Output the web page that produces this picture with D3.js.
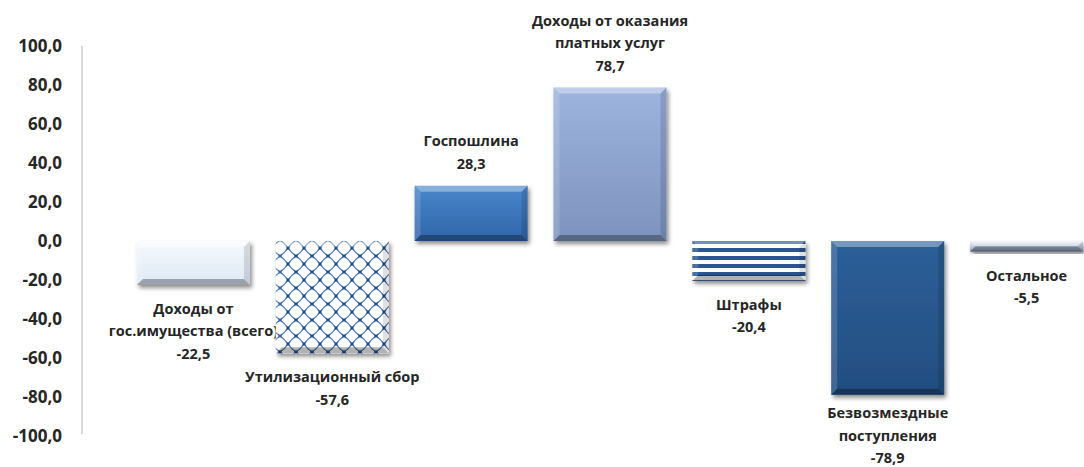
<!DOCTYPE html>
<html>
<head>
<meta charset="utf-8">
<script src="https://cdn.jsdelivr.net/npm/d3@7"></script>
<style>
  html, body { margin: 0; padding: 0; background: #fff; }
  svg { display: block; }
  text { font-family: "Open Sans", "Noto Sans", sans-serif; font-weight: 700; fill: #262626; }
</style>
</head>
<body>
<svg id="chart" width="1084" height="467"></svg>
<script>
// ---- data ----
const categories = [
  "Доходы от\nгос.имущества (всего)",
  "Утилизационный сбор",
  "Госпошлина",
  "Доходы от оказания\nплатных услуг",
  "Штрафы",
  "Безвозмездные\nпоступления",
  "Остальное"
];
const values = [-22.5, -57.6, 28.3, 78.7, -20.4, -78.9, -5.5];
const fills = ["light", "lattice", "mid", "steel", "stripes", "dark", "gray"];
const yTicks = [-100, -80, -60, -40, -20, 0, 20, 40, 60, 80, 100];

// ---- setup ----
const svg = d3.select("#chart");
const W = 1084, H = 467;
const locale = d3.formatLocale({ decimal: ",", thousands: " ", grouping: [3], currency: ["", ""], minus: "-" });
const fmt = locale.format(".1f");

const x = d3.scaleBand().domain(categories).range([124, 1096]).paddingInner(0.186).paddingOuter(0.093);
const y = d3.scaleLinear().domain([-100, 100]).range([436, 46]);

const defs = svg.append("defs");

// drop shadow
const sh = defs.append("filter").attr("id", "shadow").attr("x", "-10%").attr("y", "-10%").attr("width", "130%").attr("height", "130%");
sh.append("feDropShadow").attr("dx", 2).attr("dy", 3).attr("stdDeviation", 2.2).attr("flood-color", "#000").attr("flood-opacity", 0.45);

function vgrad(id, stops) {
  const g = defs.append("linearGradient").attr("id", id).attr("x1", 0).attr("y1", 0).attr("x2", 0).attr("y2", 1);
  stops.forEach(([o, c]) => g.append("stop").attr("offset", o).attr("stop-color", c));
}
vgrad("g-light", [[0, "#f6f9fd"], [1, "#dde8f5"]]);
vgrad("g-mid", [[0, "#4a86cb"], [1, "#2f65a8"]]);
vgrad("g-steel", [[0, "#9db4de"], [1, "#7d93bd"]]);
vgrad("g-dark", [[0, "#2d5f98"], [1, "#234d80"]]);
vgrad("g-gray", [[0, "#eef3fb"], [0.5, "#b9c6da"], [1, "#7d8aa3"]]);

// lattice pattern
const lat = defs.append("pattern").attr("id", "p-lattice").attr("patternUnits", "userSpaceOnUse")
  .attr("width", 16).attr("height", 16);
lat.append("rect").attr("width", 16).attr("height", 16).attr("fill", "#fff");
lat.append("path")
  .attr("d", "M0,8 Q3.2,3.2 8,0 M8,0 Q12.8,3.2 16,8 M16,8 Q12.8,12.8 8,16 M8,16 Q3.2,12.8 0,8")
  .attr("fill", "none").attr("stroke", "#4a74b2").attr("stroke-width", 1.1);
[[0, 8], [16, 8], [8, 0], [8, 16]].forEach(([cx, cy]) => {
  lat.append("path").attr("d", `M${cx - 1.8},${cy - 1.8}L${cx + 1.8},${cy + 1.8}M${cx + 1.8},${cy - 1.8}L${cx - 1.8},${cy + 1.8}`)
    .attr("stroke", "#1f4f8f").attr("stroke-width", 1.4);
});

// stripes pattern
const st = defs.append("pattern").attr("id", "p-stripes").attr("patternUnits", "userSpaceOnUse")
  .attr("width", 8).attr("height", 8);
st.append("rect").attr("width", 8).attr("height", 8).attr("fill", "#fff");
st.append("rect").attr("y", 0).attr("width", 8).attr("height", 4).attr("fill", "#2b5592");

const fillMap = {
  light: "url(#g-light)", lattice: "url(#p-lattice)", mid: "url(#g-mid)", steel: "url(#g-steel)",
  stripes: "url(#p-stripes)", dark: "url(#g-dark)", gray: "url(#g-gray)"
};

// ---- y axis ----
const yAxis = d3.axisLeft(y).tickValues(yTicks).tickFormat(fmt).tickSize(0).tickPadding(20);
const ax = svg.append("g").attr("transform", "translate(82,0)").call(yAxis);
ax.select(".domain").attr("stroke", "#d9d9d9").attr("stroke-width", 2).attr("d", `M0,${y(100)}V${y(-99)}`);
ax.selectAll("text").style("font-family", "'Open Sans', sans-serif").style("font-weight", 700)
  .style("font-size", "17px").attr("fill", "#262626").attr("x", -20);

// ---- bars ----
const data = categories.map((c, i) => ({ c, v: values[i], f: fills[i] }));
const bw = x.bandwidth();

const bars = svg.append("g").selectAll("g").data(data).join("g");
bars.each(function (d) {
  const g = d3.select(this);
  const x0 = x(d.c), x1 = x0 + bw;
  const yt = Math.min(y(d.v), y(0)), yb = Math.max(y(d.v), y(0));
  g.append("rect").attr("x", x0).attr("y", yt).attr("width", bw).attr("height", yb - yt)
    .attr("fill", fillMap[d.f]).attr("filter", "url(#shadow)");
  const b = Math.min(6, (yb - yt) / 2);
  // bevel overlays
  g.append("path").attr("d", `M${x0},${yt}L${x1},${yt}L${x1 - b},${yt + b}L${x0 + b},${yt + b}Z`)
    .attr("fill", "#fff").attr("opacity", 0.35);
  g.append("path").attr("d", `M${x0},${yt}L${x0 + b},${yt + b}L${x0 + b},${yb - b}L${x0},${yb}Z`)
    .attr("fill", "#fff").attr("opacity", 0.15);
  g.append("path").attr("d", `M${x1},${yt}L${x1},${yb}L${x1 - b},${yb - b}L${x1 - b},${yt + b}Z`)
    .attr("fill", "#000").attr("opacity", 0.12);
  g.append("path").attr("d", `M${x0},${yb}L${x0 + b},${yb - b}L${x1 - b},${yb - b}L${x1},${yb}Z`)
    .attr("fill", "#000").attr("opacity", 0.3);
});

// ---- labels ----
const lh = 22.5;
bars.each(function (d) {
  const lines = d.c.split("\n").concat([fmt(d.v)]);
  const cx = x(d.c) + bw / 2;
  let firstY;
  if (d.v < 0) firstY = Math.min(y(d.v) + 24, 458 - (lines.length - 1) * lh);
  else firstY = y(d.v) - 22 - (lines.length - 1) * lh;
  const t = d3.select(this).append("text").attr("text-anchor", "middle").style("font-size", "14.5px");
  lines.forEach((ln, i) => {
    t.append("tspan").attr("x", cx).attr("y", firstY + i * lh).attr("dy", "0.35em").text(ln);
  });
});
</script>
</body>
</html>
